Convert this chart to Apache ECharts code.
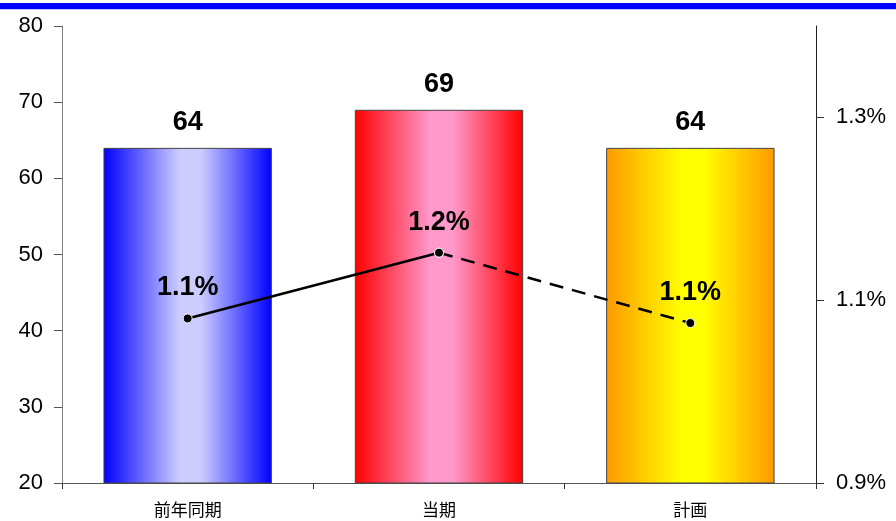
<!DOCTYPE html>
<html>
<head>
<meta charset="utf-8">
<script src="https://cdn.jsdelivr.net/npm/echarts@6/dist/echarts.min.js"></script>
<style>
  html, body { margin: 0; padding: 0; background: #ffffff; }
  #chart { width: 896px; height: 521px; }
</style>
</head>
<body>
<div id="chart"></div>
<script>
// Categories along the x axis
const categories = ['前年同期', '当期', '計画'];
// Bar values (left axis)
const barValues = [64, 69, 64];
// Ratio values in percent (right axis); first segment actual, second segment planned
const ratioValues = [1.08, 1.152, 1.075];
// Right axis labelled positions
const ratioTicks = [0.9, 1.1, 1.3];

// Horizontal gradient per bar: edge colour -> light centre -> edge colour
const barGradients = [
  ['#0000ff', '#ccccff', '#0000ff'],
  ['#ff0000', '#ff99cc', '#ff0000'],
  ['#ff9900', '#ffff00', '#ff9900']
];

function gradient(c) {
  return new echarts.graphic.LinearGradient(0, 0, 1, 0, [
    { offset: 0, color: c[0] },
    { offset: 0.45, color: c[1] },
    { offset: 0.58, color: c[1] },
    { offset: 1, color: c[2] }
  ]);
}

const chart = echarts.init(document.getElementById('chart'), null, { renderer: 'canvas' });

const font = 'Liberation Sans, Arial, sans-serif';
const cjkFont = '"Noto Sans CJK JP", sans-serif';

// Split the ratio line into a solid part and a dashed part
const solidPart = ratioValues.map((v, i) => (i <= 1 ? v : null));
const dashedPart = ratioValues.map((v, i) => (i >= 1 ? v : null));

const ratioLabel = {
  show: true,
  position: 'top',
  distance: 12,
  fontFamily: font,
  fontSize: 27,
  fontWeight: 'bold',
  color: '#000000',
  formatter: p => p.value.toFixed(1) + '%'
};

chart.setOption({
  animation: false,
  backgroundColor: '#ffffff',
  graphic: [
    { type: 'rect', left: 0, top: 3, shape: { width: 896, height: 6 }, style: { fill: '#0000ff' } },
    { type: 'rect', left: 0, top: 9, shape: { width: 896, height: 1 }, style: { fill: '#c8c8ff' } }
  ],
  grid: { left: 62, right: 80, top: 26, bottom: 38, containLabel: false },
  xAxis: {
    type: 'category',
    data: categories,
    axisLine: { lineStyle: { color: '#555555', width: 1 } },
    axisTick: { show: true, length: 6, lineStyle: { color: '#333333' } },
    axisLabel: { fontFamily: cjkFont, fontSize: 17, color: '#000000', margin: 18 }
  },
  yAxis: [
    {
      type: 'value',
      min: 20,
      max: 80,
      interval: 10,
      splitLine: { show: false },
      axisLine: { show: true, lineStyle: { color: '#808080', width: 1 } },
      axisTick: { show: true, length: 8, lineStyle: { color: '#555555' } },
      axisLabel: { fontFamily: font, fontSize: 22, color: '#000000', margin: 19 }
    },
    {
      type: 'value',
      min: 0.9,
      max: 1.4,
      interval: 0.1,
      position: 'right',
      splitLine: { show: false },
      axisLine: { show: true, lineStyle: { color: '#222222', width: 1 } },
      axisTick: { show: true, length: 8, customValues: ratioTicks, lineStyle: { color: '#333333' } },
      axisLabel: {
        customValues: ratioTicks,
        fontFamily: font,
        fontSize: 22,
        color: '#000000',
        margin: 20,
        formatter: v => v.toFixed(1) + '%'
      }
    }
  ],
  series: [
    {
      type: 'bar',
      yAxisIndex: 0,
      barWidth: '67%',
      data: barValues.map((v, i) => ({
        value: v,
        itemStyle: { color: gradient(barGradients[i]), borderColor: '#444444', borderWidth: 1 }
      })),
      label: {
        show: true,
        position: 'top',
        distance: 12,
        fontFamily: font,
        fontSize: 27,
        fontWeight: 'bold',
        color: '#000000'
      },
      z: 1
    },
    {
      type: 'line',
      yAxisIndex: 1,
      data: solidPart,
      symbol: 'circle',
      symbolSize: 9,
      connectNulls: false,
      lineStyle: { color: '#000000', width: 2.5, type: 'solid' },
      itemStyle: { color: '#000000', borderColor: '#ffffff', borderWidth: 1 },
      label: ratioLabel,
      z: 3
    },
    {
      type: 'line',
      yAxisIndex: 1,
      data: dashedPart,
      symbol: 'circle',
      symbolSize: 9,
      connectNulls: false,
      lineStyle: { color: '#000000', width: 2.5, type: [14, 9] },
      itemStyle: { color: '#000000', borderColor: '#ffffff', borderWidth: 1 },
      label: Object.assign({}, ratioLabel, {
        formatter: p => (p.dataIndex === 2 ? p.value.toFixed(1) + '%' : '')
      }),
      z: 3
    }
  ]
});
</script>
</body>
</html>
